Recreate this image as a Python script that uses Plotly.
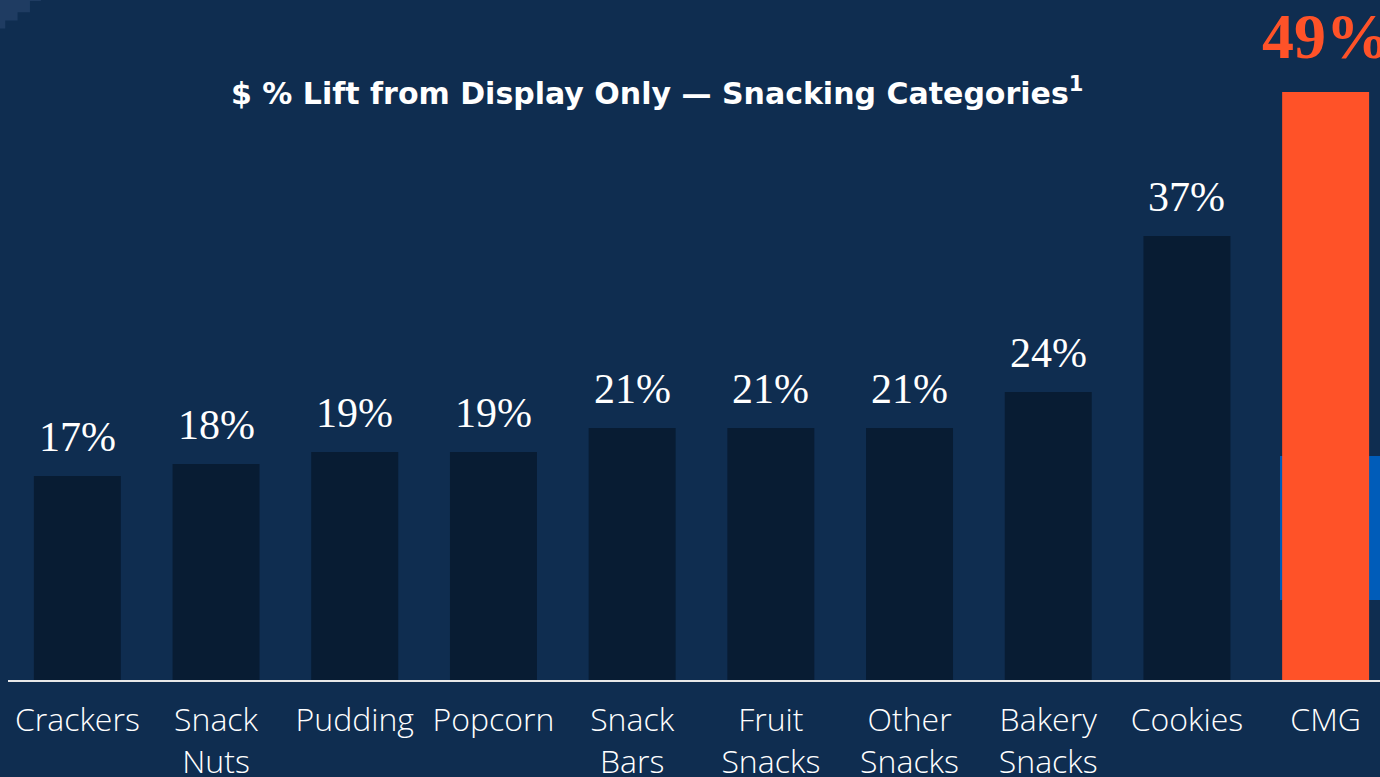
import plotly.graph_objects as go

categories = ["Crackers", "Snack<br>Nuts", "Pudding", "Popcorn", "Snack<br>Bars",
              "Fruit<br>Snacks", "Other<br>Snacks", "Bakery<br>Snacks", "Cookies", "CMG"]
values = [17, 18, 19, 19, 21, 21, 21, 24, 37, 49]
labels = ["17%", "18%", "19%", "19%", "21%", "21%", "21%", "24%", "37%", "49%"]
title_text = "$ % Lift from Display Only — Snacking Categories<sup>1</sup>"

BG = "#0f2d50"
BAR = "#081c33"
ORANGE = "#ff5228"
BLUE = "#005cb9"

bar_colors = [BAR] * (len(values) - 1) + [ORANGE]

fig = go.Figure()
fig.add_trace(go.Bar(x=categories, y=values, marker_color=bar_colors,
                     marker_line_width=0, hoverinfo="skip"))

annotations = []
for i, (c, v, t) in enumerate(zip(categories, values, labels)):
    highlight = i == len(values) - 1
    annotations.append(dict(
        x=c, y=v, xref="x", yref="y", text=t, showarrow=False,
        yanchor="bottom", yshift=18 if highlight else 14,
        font=dict(family="Liberation Serif", size=64 if highlight else 42,
                  color=ORANGE if highlight else "white",
                  weight="bold" if highlight else "normal"),
        xanchor="center"))

annotations.append(dict(
    x=(657 - 8) / 1372, y=1 - (92 / 680), xref="paper", yref="paper",
    text=title_text, showarrow=False, xanchor="center", yanchor="middle",
    font=dict(family="DejaVu Sans", size=30, color="white", weight="bold")))

fig.update_layout(
    width=1380, height=777,
    margin=dict(l=8, r=0, t=0, b=97, autoexpand=False),
    paper_bgcolor=BG, plot_bgcolor=BG,
    bargap=0.373,
    showlegend=False,
    annotations=annotations,
    xaxis=dict(type="category", range=[-0.5, 9.392], showgrid=False, zeroline=False,
               automargin=False,
               showline=True, linecolor="#e8e8e8", linewidth=2,
               ticks="outside", ticklen=11, tickcolor=BG,
               tickfont=dict(family="Open Sans", size=32, color="white", weight=300)),
    yaxis=dict(range=[0, 56.67], visible=False, showgrid=False, zeroline=False,
               automargin=False),
    shapes=[
        dict(type="rect", xref="paper", yref="paper", layer="below",
             x0=(1280 - 8) / 1372, x1=1.05, y0=1 - 600 / 680, y1=1 - 456 / 680,
             fillcolor=BLUE, line=dict(width=0)),
        dict(type="path", xref="paper", yref="paper", layer="below",
             path="M -0.006 1 L 0.024 1 L 0.024 0.9985 L 0.016 0.9985 L 0.016 0.982 "
                  "L 0.007 0.982 L 0.007 0.97 L -0.002 0.97 L -0.002 0.958 L -0.006 0.958 Z",
             fillcolor="#1f3c62", line=dict(width=0)),
    ],
)

fig.write_html("out.html", config={"displayModeBar": False})
